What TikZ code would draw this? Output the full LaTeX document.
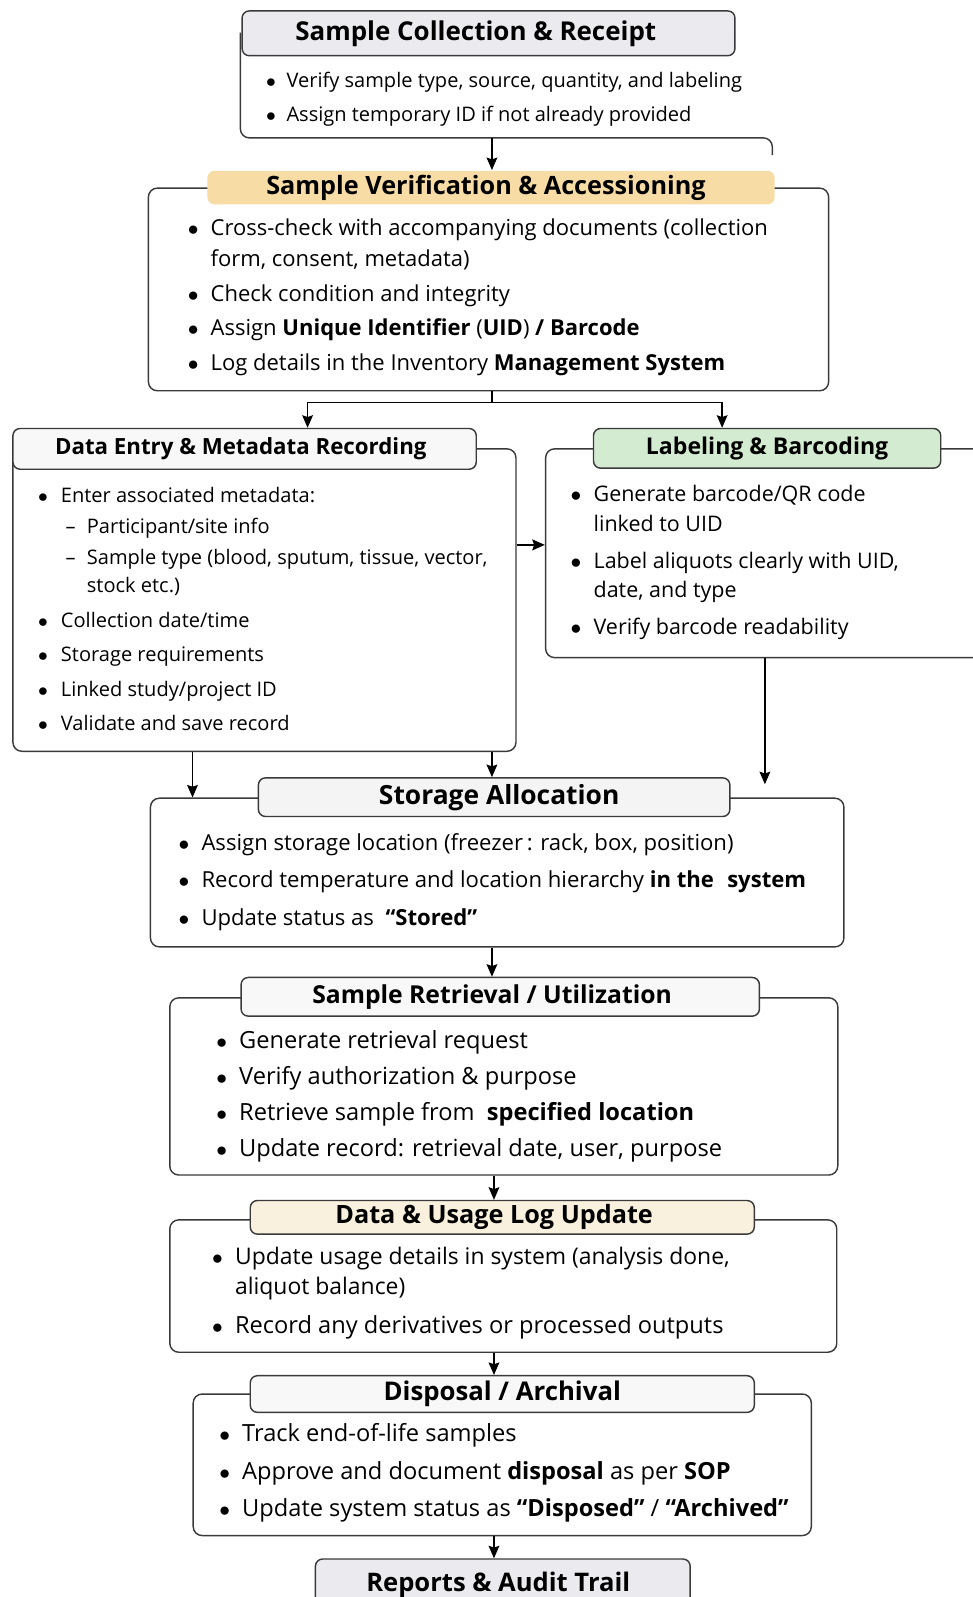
\documentclass[tikz,border=0pt]{standalone}
\usepackage{fontspec}
\setmainfont{Open Sans}
\usetikzlibrary{arrows.meta}

\definecolor{edge}{HTML}{3A3A3A}
\definecolor{greyfill}{HTML}{EBEBEF}
\definecolor{peachfill}{HTML}{F7DCA6}
\definecolor{whitefill}{HTML}{F8F8F8}
\definecolor{greenfill}{HTML}{D3EBD1}
\definecolor{creamfill}{HTML}{F9F1DE}

\newcommand{\bul}{\makebox[0.45cm][l]{\rule{0pt}{11pt}$\bullet$}}
\newcommand{\cnt}{\hspace*{0.45cm}}

\tikzset{
  title/.style={draw=edge, line width=0.8pt, rounded corners=4pt, anchor=north west,
    inner sep=0pt, font=\bfseries\fontsize{13}{15}\selectfont},
  body/.style={draw=edge, line width=0.8pt, rounded corners=5pt, fill=white,
    anchor=north west, inner sep=0pt},
  bodytxt/.style={anchor=north west, inner sep=0pt, align=left},
  arr/.style={draw=black, line width=0.8pt, -{Stealth[length=7pt,width=6pt,inset=1pt]}}
}

\begin{document}
\begin{tikzpicture}[x=0.02cm,y=-0.02cm]
    \useasboundingbox (0,0) rectangle (955,1568);
    \coordinate (spine) at (485,0);
    \coordinate (split) at (483,395);
    \coordinate (lbdrop) at (751,770);

    % Sample collection
    \node[body, draw=none, minimum width=10.42cm, minimum height=2.04cm] (sca-body) at (236,32) {};
    \draw[edge, line width=0.8pt, rounded corners=5pt] (sca-body.north west) -- (sca-body.south west)
        -- (sca-body.south east) -- ++(0,17);
    \node[title, fill=greyfill, minimum width=9.68cm, minimum height=0.88cm, font=\bfseries\fontsize{14.5}{16}\selectfont] (sca-title) at (237,10) {Sample Collection \& Receipt\hspace*{0.5cm}};
    \node[bodytxt, font=\fontsize{11.2}{19.4}\selectfont] (sca-txt) at (261,66)
        {\makebox[0.40cm][l]{\rule{0pt}{11pt}$\bullet$}Verify sample type, source, quantity, and labeling\\
         \makebox[0.40cm][l]{$\bullet$}Assign temporary ID if not already provided};

    % Verification and accessioning
    \node[body, minimum width=13.36cm, minimum height=3.98cm] (sva-body) at (145,184) {};
    \node[title, draw=none, fill=peachfill, minimum width=11.14cm, minimum height=0.66cm, font=\bfseries\fontsize{14.1}{16}\selectfont] (sva-title) at (203,167) {Sample Verification \& Accessioning\hspace*{0.2cm}};
    \node[bodytxt, font=\fontsize{12.3}{19.4}\selectfont] (sva-txt) at (184,212)
        {\bul Cross-check with accompanying documents (collection\\[-2.4pt]
         \cnt form, consent, metadata)\\
         \bul Check condition and integrity\\
         \bul Assign \textbf{Unique Identifier} (\textbf{UID}) \textbf{/ Barcode}\\
         \bul Log details in the Inventory \textbf{Management System}};

    % Data entry
    \node[body, minimum width=9.88cm, minimum height=5.94cm] (de-body) at (12,440) {};
    \node[title, fill=whitefill, minimum width=9.10cm, minimum height=0.80cm, font=\bfseries\fontsize{12.45}{15}\selectfont] (de-title) at (12,420) {Data Entry \& Metadata Recording\hspace*{0.15cm}};
    \node[bodytxt, font=\fontsize{11.2}{19.3}\selectfont] (de-txt) at (37,474)
        {\bul Enter associated metadata:\\[-2pt]
         \hspace*{0.54cm}\makebox[0.42cm][l]{\rule{0pt}{11pt}--}Participant/site info\\[-2pt]
         \hspace*{0.54cm}\makebox[0.42cm][l]{--}Sample type (blood, sputum, tissue, vector,\\[-3.6pt]
         \hspace*{0.96cm}stock etc.)\\
         \bul Collection date/time\\
         \bul Storage requirements\\
         \bul Linked study/project ID\\
         \bul Validate and save record};

    % Labeling
    \node[body, minimum width=10cm, minimum height=4.10cm] (lb-body) at (535,440) {};
    \node[title, fill=greenfill, minimum width=6.82cm, minimum height=0.78cm, font=\bfseries\fontsize{12.9}{15}\selectfont] (lb-title) at (582,420) {Labeling \& Barcoding};
    \node[bodytxt, font=\fontsize{12}{20.5}\selectfont] (lb-txt) at (560,473)
        {\bul Generate barcode/QR code\\[-4pt]
         \cnt linked to UID\\
         \bul Label aliquots clearly with UID,\\[-4pt]
         \cnt date, and type\\
         \bul Verify barcode readability};

    % Storage
    \node[body, minimum width=13.62cm, minimum height=2.92cm] (sa-body) at (147,783) {};
    \node[title, fill=whitefill!70!greyfill, minimum width=9.26cm, minimum height=0.76cm, font=\bfseries\fontsize{14.75}{16}\selectfont] (sa-title) at (253,763) {\hspace*{0.2cm}Storage Allocation};
    \node[bodytxt, font=\fontsize{12.35}{21}\selectfont] (sa-txt) at (175,815)
        {\bul Assign storage location (freezer\,: rack, box, position)\\
         \bul Record temperature and location hierarchy \textbf{in the\hspace{0.6em}system}\\
         \bul Update status as \ \textbf{“Stored”}};

    % Retrieval
    \node[body, minimum width=13.12cm, minimum height=3.48cm] (sr-body) at (166,979) {};
    \node[title, fill=whitefill, minimum width=10.18cm, minimum height=0.76cm, font=\bfseries\fontsize{13.8}{16}\selectfont] (sr-title) at (236,959) {Sample Retrieval / Utilization\hspace*{0.32cm}};
    \node[bodytxt, font=\fontsize{13.2}{20.1}\selectfont] (sr-txt) at (212,1010)
        {\bul Generate retrieval request\\
         \bul Verify authorization \& purpose\\
         \bul Retrieve sample from \ \textbf{specified location}\\
         \bul Update record: retrieval date, user, purpose};

    % Usage log
    \node[body, minimum width=13.10cm, minimum height=2.60cm] (du-body) at (166,1197) {};
    \node[title, fill=creamfill, minimum width=9.90cm, minimum height=0.66cm, font=\bfseries\fontsize{14.1}{16}\selectfont] (du-title) at (245,1178) {Data \& Usage Log Update\hspace*{0.32cm}};
    \node[bodytxt, font=\fontsize{12.8}{22.2}\selectfont] (du-txt) at (208,1222)
        {\bul Update usage details in system (analysis done,\\[-5.7pt]
         \cnt aliquot balance)\\
         {\fontsize{13.2}{22.2}\selectfont\bul Record any derivatives or processed outputs}};

    % Disposal
    \node[body, minimum width=12.14cm, minimum height=2.78cm] (da-body) at (189,1368) {};
    \node[title, fill=whitefill, minimum width=9.90cm, minimum height=0.72cm, font=\bfseries\fontsize{14.4}{16}\selectfont] (da-title) at (245,1350) {Disposal / Archival};
    \node[bodytxt, font=\fontsize{13.2}{20.8}\selectfont] (da-txt) at (215,1396)
        {\bul Track end-of-life samples\\
         \bul Approve and document \textbf{disposal} as per \textbf{SOP}\\
         \bul Update system status as \textbf{“Disposed”} / \textbf{“Archived”}};

    % Reports
    \node[title, fill=greyfill, minimum width=7.36cm, minimum height=1.00cm, font=\bfseries\fontsize{14.3}{16}\selectfont] (ra-title) at (309,1530) {Reports \& Audit Trail\hspace*{0.18cm}};

    % Arrows
    \draw[arr] (sca-body.south -| split) -- (sva-title.north -| split);
    \draw[arr] (sva-body.south -| split) -- (split) -| (de-title.north -| 302,0);
    \draw[arr] (split) -| (lb-title.north -| 709,0);
    \draw[arr, line width=1.3pt] (de-body.east |- 0,535) -- (lb-body.west |- 0,535);
    \draw[arr] (de-body.south -| 189,0) -- (sa-body.north -| 189,0);
    \draw[arr] (de-body.south -| split) -- (sa-title.north -| split);
    \draw[arr] (lb-body.south -| lbdrop) -- (lbdrop);
    \draw[arr] (sa-body.south -| split) -- (sr-title.north -| split);
    \draw[arr] (sr-body.south -| spine) -- (du-title.north -| spine);
    \draw[arr] (du-body.south -| spine) -- (da-title.north -| spine);
    \draw[arr] (da-body.south -| spine) -- (ra-title.north -| spine);
\end{tikzpicture}
\end{document}
